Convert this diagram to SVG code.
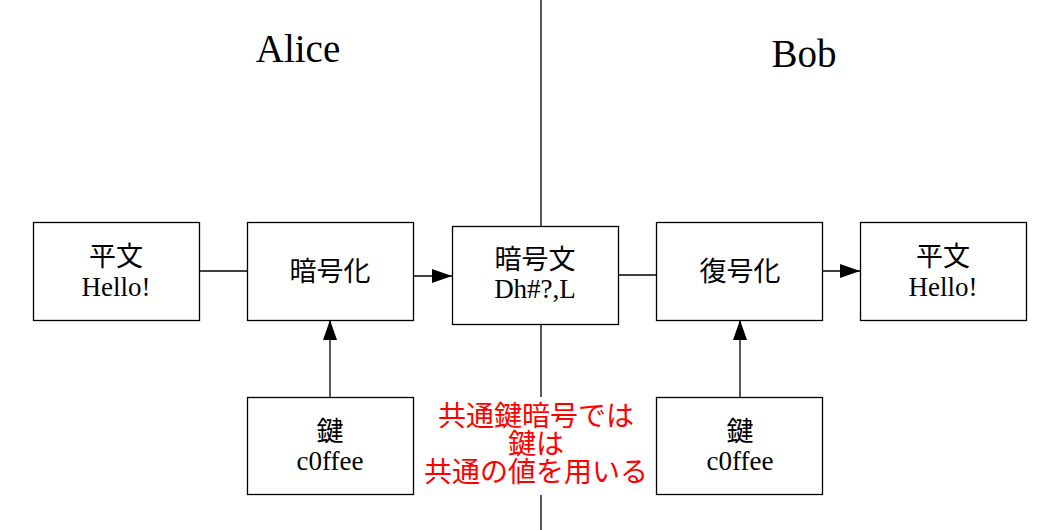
<svg xmlns="http://www.w3.org/2000/svg" width="1061" height="530" viewBox="0 0 1061 530">
<style>
.box{fill:#fff;stroke:#000;stroke-width:1.3}
.t{font-family:"Liberation Serif","Noto Sans CJK JP",serif;font-size:27px;fill:#000;text-anchor:middle}
.h{font-family:"Liberation Serif",serif;font-size:39px;fill:#000;text-anchor:middle}
.r{font-family:"Liberation Sans","Noto Sans CJK JP",sans-serif;font-size:28px;fill:#f00;text-anchor:middle}
.c{stroke:#000;stroke-width:1.3;fill:none}
</style>
<defs>
<marker id="ah" viewBox="0 0 20 14" refX="20" refY="7" markerWidth="20" markerHeight="14" markerUnits="userSpaceOnUse" orient="auto">
<path d="M0,0 L20,7 L0,14 Z" fill="#000"/>
</marker>
</defs>
<g id="divider"><path class="c" d="M541,0 V226 M541,325 V397 M541,495 V530"/></g>
<text class="h" x="298" y="62">Alice</text>
<text class="h" x="804" y="67">Bob</text>
<g id="connectors">
<path class="c" d="M199,271 H247"/>
<path class="c" d="M413,276 H452" marker-end="url(#ah)"/>
<path class="c" d="M619,275 H656"/>
<path class="c" d="M823,271 H860" marker-end="url(#ah)"/>
<path class="c" d="M330,397 V320" marker-end="url(#ah)"/>
<path class="c" d="M740,397 V320" marker-end="url(#ah)"/>
</g>
<g id="plain1"><rect class="box" x="33.5" y="222.5" width="166" height="98"/><text class="t" x="116" y="266">平文</text><text class="t" x="116" y="296">Hello!</text></g>
<g id="encrypt"><rect class="box" x="247.5" y="222.5" width="166" height="98"/><text class="t" x="330" y="281">暗号化</text></g>
<g id="cipher"><rect class="box" x="452.5" y="226.5" width="166" height="98"/><text class="t" x="535" y="269">暗号文</text><text class="t" x="535" y="298">Dh#?,L</text></g>
<g id="decrypt"><rect class="box" x="656.5" y="222.5" width="166" height="98"/><text class="t" x="740" y="281">復号化</text></g>
<g id="plain2"><rect class="box" x="860.5" y="222.5" width="166" height="98"/><text class="t" x="943" y="266">平文</text><text class="t" x="943" y="296">Hello!</text></g>
<g id="key1"><rect class="box" x="247.5" y="397.5" width="166" height="97"/><text class="t" x="330" y="441">鍵</text><text class="t" x="330" y="470">c0ffee</text></g>
<g id="key2"><rect class="box" x="656.5" y="397.5" width="166" height="97"/><text class="t" x="740" y="441">鍵</text><text class="t" x="740" y="470">c0ffee</text></g>
<g id="note"><text class="r" x="536" y="426">共通鍵暗号では</text><text class="r" x="536" y="454">鍵は</text><text class="r" x="536" y="482">共通の値を用いる</text></g>
</svg>
